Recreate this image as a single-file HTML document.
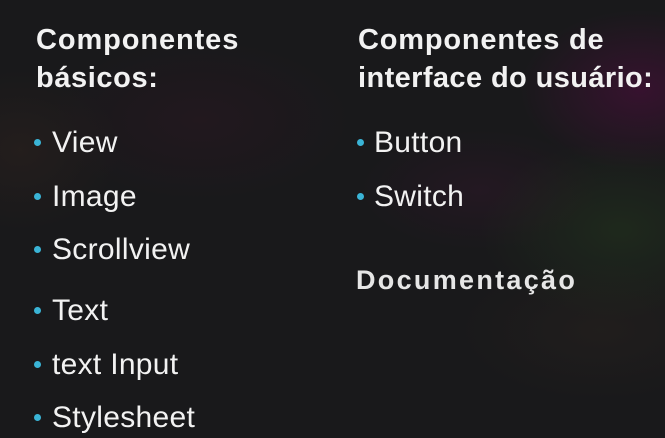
<!DOCTYPE html>
<html><head><meta charset="utf-8"><style>
html,body{margin:0;padding:0}
body{width:665px;height:438px;overflow:hidden;position:relative;background:#19191b;font-family:"Liberation Sans",sans-serif;color:#f2f2f2}
.bg{position:absolute;inset:0;background:
radial-gradient(ellipse 120px 80px at 640px 90px,rgba(90,10,70,.45),transparent),
radial-gradient(ellipse 140px 90px at 620px 230px,rgba(40,70,30,.35),transparent),
radial-gradient(ellipse 100px 80px at 20px 150px,rgba(60,40,30,.3),transparent),
radial-gradient(ellipse 150px 80px at 200px 120px,rgba(60,20,40,.25),transparent),
radial-gradient(ellipse 120px 60px at 480px 190px,rgba(60,20,50,.3),transparent),
radial-gradient(ellipse 140px 70px at 600px 330px,rgba(50,40,30,.3),transparent)}
.t{position:absolute;white-space:nowrap;line-height:1}
.h{font-weight:bold;font-size:29px;letter-spacing:.9px}
.i{font-size:30px;letter-spacing:.3px}
.d{position:absolute;width:7px;height:7px;border-radius:50%;background:#3ab4d6}
</style></head><body><div class="bg"></div>
<div class="t h" style="left:36px;top:26px">Componentes</div>
<div class="t h" style="left:36px;top:64px;letter-spacing:.6px">básicos:</div>
<div class="t h" style="left:358px;top:26px;letter-spacing:.8px">Componentes de</div>
<div class="t h" style="left:358px;top:64px;letter-spacing:.4px">interface do usuário:</div>

<div class="d" style="left:34px;top:139px"></div><div class="t i" style="left:52px;top:128px">View</div>
<div class="d" style="left:34px;top:193px"></div><div class="t i" style="left:52px;top:182px">Image</div>
<div class="d" style="left:34px;top:246px"></div><div class="t i" style="left:52px;top:235px">Scrollview</div>
<div class="d" style="left:34px;top:307px"></div><div class="t i" style="left:52px;top:296px">Text</div>
<div class="d" style="left:34px;top:361px"></div><div class="t i" style="left:52px;top:350px">text Input</div>
<div class="d" style="left:34px;top:414px"></div><div class="t i" style="left:52px;top:403px">Stylesheet</div>

<div class="d" style="left:357px;top:139px"></div><div class="t i" style="left:374px;top:128px">Button</div>
<div class="d" style="left:357px;top:193px"></div><div class="t i" style="left:374px;top:182px">Switch</div>
<div class="t h" style="left:356px;top:267px;font-size:27px;letter-spacing:2.3px;color:#e6e6e6">Documentação</div>
</body></html>
